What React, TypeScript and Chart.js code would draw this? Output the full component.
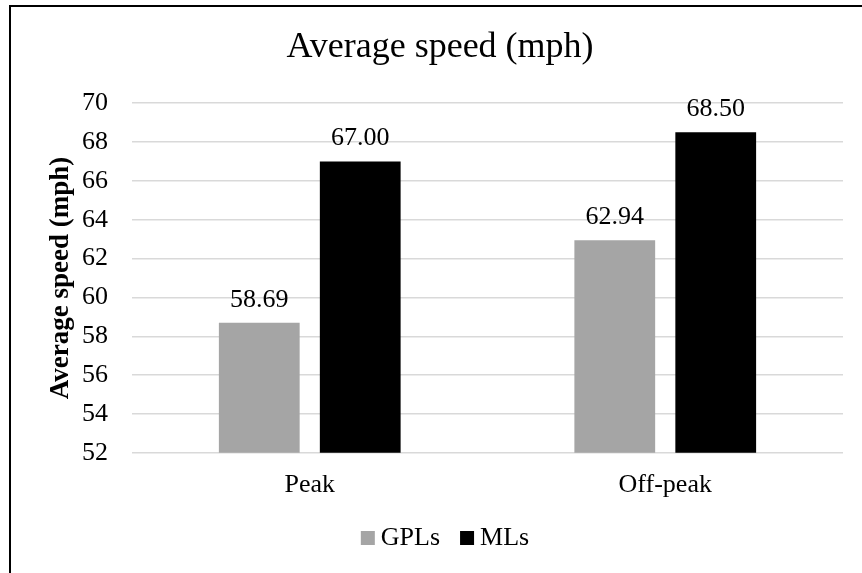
import React, { useEffect, useRef } from "react";
import { Chart, registerables } from "chart.js";

Chart.register(...registerables);

const chartTitle = "Average speed (mph)";
const yAxisTitle = "Average speed (mph)";
const categories = ["Peak", "Off-peak"];
const seriesNames = ["GPLs", "MLs"];
const gplValues = [58.69, 62.94];
const mlValues = [67.0, 68.5];
const yMin = 52;
const yMax = 70;
const yStep = 2;

const FONT = "'Liberation Serif', 'Times New Roman', serif";
const GRAY = "#A5A5A5";
const BLACK = "#000000";

const dataLabelPlugin = {
  id: "dataLabels",
  afterDatasetsDraw(chart: any) {
    const ctx = chart.ctx;
    ctx.save();
    ctx.font = `26px ${FONT}`;
    ctx.fillStyle = "#000";
    ctx.textAlign = "center";
    ctx.textBaseline = "alphabetic";
    chart.data.datasets.forEach((ds: any, i: number) => {
      const meta = chart.getDatasetMeta(i);
      meta.data.forEach((el: any, j: number) => {
        const v = ds.data[j] as number;
        ctx.fillText(v.toFixed(2), el.x, el.y - 16);
      });
    });
    ctx.restore();
  },
};

const legendPlugin = {
  id: "customLegend",
  afterDraw(chart: any) {
    const ctx = chart.ctx;
    ctx.save();
    ctx.font = `26px ${FONT}`;
    ctx.textBaseline = "alphabetic";
    ctx.textAlign = "left";
    const box = 14;
    const gap = 6;
    const itemGap = 20;
    const items = chart.data.datasets.map((ds: any) => ({
      label: ds.label as string,
      color: ds.backgroundColor as string,
      w: box + gap + ctx.measureText(ds.label).width,
    }));
    const total =
      items.reduce((s: number, it: any) => s + it.w, 0) +
      itemGap * (items.length - 1);
    const centerX = 445;
    const baseline = 545;
    let x = centerX - total / 2;
    items.forEach((it: any) => {
      ctx.fillStyle = it.color;
      ctx.fillRect(x, baseline - box, box, box);
      ctx.fillStyle = "#000";
      ctx.fillText(it.label, x + box + gap, baseline);
      x += it.w + itemGap;
    });
    ctx.restore();
  },
};

export default function App() {
  const ref = useRef<HTMLCanvasElement | null>(null);

  useEffect(() => {
    if (!ref.current) return;
    const chart = new Chart(ref.current, {
      type: "bar",
      data: {
        labels: categories,
        datasets: [
          {
            label: seriesNames[0],
            data: gplValues,
            backgroundColor: GRAY,
            barPercentage: 0.8,
            categoryPercentage: 0.568,
          },
          {
            label: seriesNames[1],
            data: mlValues,
            backgroundColor: BLACK,
            barPercentage: 0.8,
            categoryPercentage: 0.568,
          },
        ],
      },
      options: {
        responsive: false,
        animation: false,
        devicePixelRatio: 1,
        layout: { padding: { left: 37, right: 19, top: 16, bottom: 55 } },
        plugins: {
          legend: { display: false },
          tooltip: { enabled: false },
          title: {
            display: true,
            text: chartTitle,
            color: "#000",
            font: { family: FONT, size: 36, weight: "normal" },
            padding: { top: 10, bottom: 34 },
          },
        },
        scales: {
          x: {
            grid: { display: false, drawTicks: false },
            border: { display: false },
            ticks: {
              color: "#000",
              font: { family: FONT, size: 26 },
              padding: 17,
            },
          },
          y: {
            min: yMin,
            max: yMax,
            afterFit: (scale: any) => {
              scale.width = 95;
            },
            ticks: {
              stepSize: yStep,
              color: "#000",
              font: { family: FONT, size: 26 },
              padding: 24,
            },
            grid: { color: "#D9D9D9", lineWidth: 1.5, drawTicks: false },
            border: { display: false },
            title: {
              display: true,
              text: yAxisTitle,
              color: "#000",
              font: { family: FONT, size: 27, weight: "bold" },
              padding: { top: 8, bottom: 4 },
            },
          },
        },
      },
      plugins: [dataLabelPlugin, legendPlugin],
    });
    return () => chart.destroy();
  }, []);

  return (
    <div
      style={{
        position: "fixed",
        left: 0,
        top: 0,
        width: 862,
        height: 573,
        overflow: "hidden",
        background: "#fff",
      }}
    >
      <canvas ref={ref} width={862} height={573} style={{ display: "block" }} />
      <div
        style={{
          position: "absolute",
          left: 9,
          top: 5,
          width: 900,
          height: 620,
          border: "2px solid #000",
          pointerEvents: "none",
        }}
      />
    </div>
  );
}
